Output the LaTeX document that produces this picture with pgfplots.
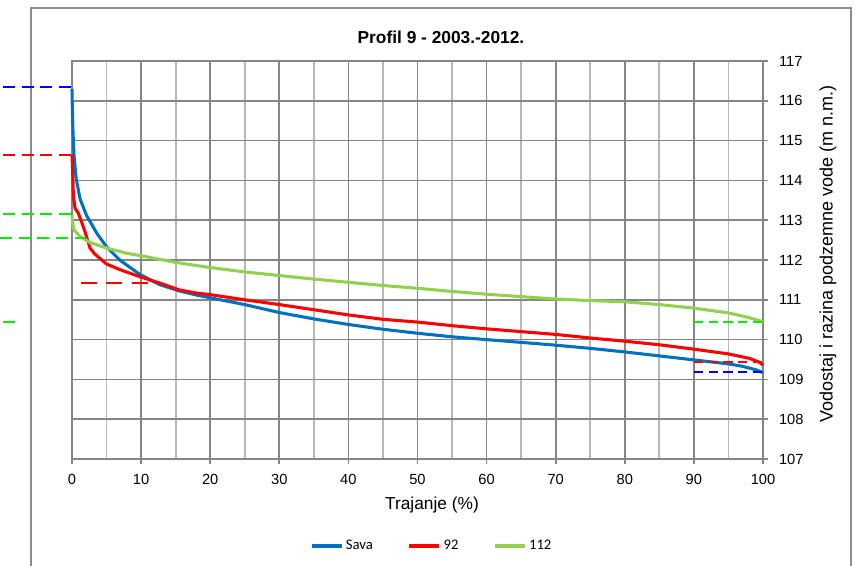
\documentclass[border=0pt]{standalone}
\usepackage{fontspec}
\setmainfont{Liberation Sans}
\newfontfamily\legfont{Carlito}
\usepackage{pgfplots}
\pgfplotsset{compat=1.18}
\definecolor{savablue}{HTML}{0070C0}
\definecolor{redc}{HTML}{FF0000}
\definecolor{greenc}{HTML}{92D050}
\definecolor{gridmaj}{HTML}{868686}
\definecolor{gridmin}{HTML}{B8B8B8}
\definecolor{dblue}{HTML}{0000FF}
\definecolor{dgreen}{HTML}{00EE00}
\definecolor{framec}{HTML}{8C8C8C}
\begin{document}
\begin{tikzpicture}
\draw[framec, line width=1.5pt] (-30.75pt,-100pt) -- (-30.75pt,338.25pt) -- (584.25pt,338.25pt) -- (584.25pt,-100pt);
\begin{axis}[
  at={(0,0)}, anchor=south west,
  scale only axis, width=518.25pt, height=298.5pt,
  xmin=0, xmax=100, ymin=107, ymax=117,
  xtick={0,10,...,100}, minor xtick={5,15,...,95},
  ytick={107,108,...,117},
  grid=both,
  major grid style={gridmaj, line width=1.3pt},
  minor grid style={gridmin, line width=1.3pt},
  axis line style={gridmaj, line width=1.3pt},
  major tick style={gridmaj, line width=1.3pt},
  minor tick length=0pt,
  major tick length=4pt,
  tick align=outside,
  xtick pos=bottom, ytick pos=right, yticklabel pos=right,
  ticklabel style={font=\fontsize{11}{13}\selectfont},
  xticklabel style={yshift=-3.75pt},
  yticklabel style={xshift=4.5pt},
  /pgf/number format/assume math mode=true,
  clip=false,
  title={Profil 9 - 2003.-2012.},
  title style={at={(axis description cs:0.534,1)}, anchor=center, yshift=12pt, font=\fontsize{13}{15}\selectfont\bfseries},
  xlabel={Trajanje (\%)},
  xlabel style={at={(axis description cs:0.521,0)}, anchor=center, yshift=-34.5pt, font=\fontsize{13}{15}\selectfont},
  ylabel={Vodostaj i razina podzemne vode (m n.m.)},
  every axis y label/.style={at={(axis description cs:1,0.515)}, xshift=48.75pt, rotate=90, anchor=center, font=\fontsize{13.5}{15}\selectfont},
  legend columns=3,
  legend style={draw=none, fill=none, at={(axis description cs:0.521,0)}, anchor=center, yshift=-65.25pt, font=\legfont\fontsize{11}{13}\selectfont, /tikz/every even column/.append style={column sep=24pt}},
  legend image code/.code={\draw[#1, line width=2.5pt] (0pt,0pt) -- (22.5pt,0pt);},
]
\addplot[savablue, line width=2.3pt, line join=round] coordinates {
(0,116.3)(0.05,115.8)(0.15,115.2)(0.3,114.6)(0.6,114.05)(1.16,113.54)(2.1,113.12)(3.6,112.67)(5,112.33)(6.9,112.0)(9.8,111.64)(12.7,111.38)(15.6,111.22)(18,111.12)(20,111.05)(25,110.88)(30,110.68)(35,110.52)(40,110.38)(45,110.26)(50,110.16)(55,110.07)(60,110.0)(65,109.93)(70,109.86)(75,109.78)(80,109.69)(85,109.59)(90,109.49)(95,109.39)(97,109.33)(99,109.24)(100,109.17)
};
\addlegendentry{Sava}
\addplot[redc, line width=2.3pt, line join=round] coordinates {
(0,114.65)(0.1,114.2)(0.2,113.6)(0.45,113.3)(0.9,113.18)(1.3,113.0)(1.9,112.7)(2.6,112.3)(3.3,112.15)(4.1,112.03)(5.0,111.9)(6.9,111.76)(9.8,111.58)(12.7,111.42)(15.5,111.25)(18,111.17)(20,111.13)(25,111.0)(30,110.88)(35,110.75)(40,110.62)(45,110.51)(50,110.44)(55,110.35)(60,110.27)(65,110.2)(70,110.13)(75,110.04)(80,109.96)(85,109.87)(90,109.76)(95,109.64)(98,109.53)(99.5,109.43)(100,109.36)
};
\addlegendentry{92}
\addplot[greenc, line width=2.3pt, line join=round] coordinates {
(0,113.13)(0.1,112.9)(0.3,112.75)(1.2,112.59)(2.6,112.44)(5,112.3)(7.9,112.17)(10.8,112.08)(15,111.94)(20,111.81)(25,111.7)(30,111.61)(35,111.52)(40,111.44)(45,111.36)(50,111.29)(55,111.21)(60,111.14)(65,111.08)(70,111.02)(75,110.98)(80,110.95)(85,110.88)(90,110.79)(95,110.67)(98,110.55)(100,110.45)
};
\addlegendentry{112}
% reference dashed lines
\addplot[forget plot, dblue, line width=1.5pt, dash pattern=on 9pt off 5pt] coordinates {(-10,116.34)(0,116.34)};
\addplot[forget plot, redc, line width=1.5pt, dash pattern=on 9pt off 5pt] coordinates {(-10,114.64)(0,114.64)};
\addplot[forget plot, dgreen, line width=1.5pt, dash pattern=on 9pt off 5pt] coordinates {(-10,113.15)(0,113.15)};
\addplot[forget plot, dgreen, line width=1.5pt, dash pattern=on 9pt off 5pt] coordinates {(-10.4,112.56)(2.0,112.56)};
\addplot[forget plot, redc, line width=1.5pt, dash pattern=on 12pt off 7pt] coordinates {(1.3,111.42)(12.5,111.42)};
\addplot[forget plot, dgreen, line width=1.5pt] coordinates {(-10,110.44)(-8.3,110.44)};
\addplot[forget plot, dgreen, line width=1.5pt, dash pattern=on 7pt off 4pt] coordinates {(90,110.44)(100,110.44)};
\addplot[forget plot, redc, line width=1.5pt, dash pattern=on 7pt off 4pt] coordinates {(90,109.44)(100,109.44)};
\addplot[forget plot, dblue, line width=1.5pt, dash pattern=on 7pt off 4pt] coordinates {(90,109.19)(100,109.19)};
\end{axis}
\pgfresetboundingbox
\useasboundingbox (-54pt,-79.5pt) rectangle (594.75pt,344.25pt);
\end{tikzpicture}
\end{document}
